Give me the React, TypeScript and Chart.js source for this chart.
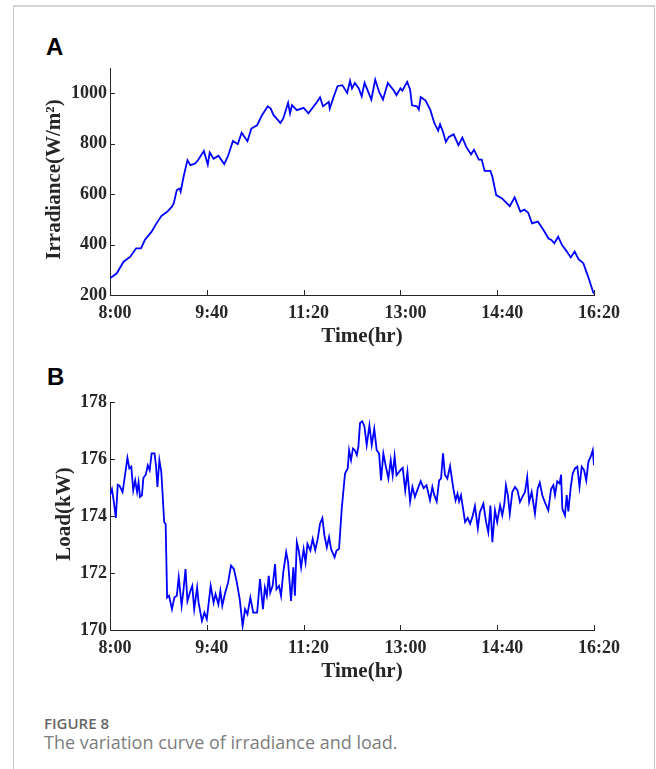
import React, { useEffect, useRef } from 'react';
import { Chart, registerables } from 'chart.js';

Chart.register(...registerables);

// ---------- data ----------
const timeTickValues = [0, 100, 200, 300, 400, 500];
const timeTickLabels = ['8:00', '9:40', '11:20', '13:00', '14:40', '16:20'];
const irradianceTicks = [200, 400, 600, 800, 1000];
const loadTicks = [170, 172, 174, 176, 178];

// minutes after 8:00
const irradianceMinutes = [
  0, 7, 14, 21, 27, 32, 36, 43, 48, 53, 59, 64, 66, 69, 72, 73, 76, 80, 83, 88,
  91, 97, 101, 103, 107, 112, 118, 122, 127, 132, 136, 142, 146, 152, 157, 163, 166, 169, 172, 176,
  179, 184, 186, 188, 193, 200, 205, 214, 217, 220, 226, 227, 231, 235, 240, 245, 248, 250, 253, 257,
  260, 263, 270, 274, 278, 282, 287, 293, 296, 300, 302, 307, 310, 312, 317, 319, 321, 326, 331, 335,
  339, 341, 344, 347, 350, 355, 360, 364, 368, 373, 376, 381, 384, 387, 393, 395, 399, 405, 413, 418,
  424, 428, 432, 436, 442, 448, 453, 456, 459, 463, 467, 472, 476, 480, 484, 489, 494, 499, 500,
];
const irradianceValues = [
  266, 286, 332, 352, 385, 385, 418, 451, 484, 513, 530, 550, 565, 616, 622, 610, 669, 735, 715, 721,
  735, 771, 717, 765, 740, 752, 719, 752, 811, 798, 843, 810, 860, 873, 913, 948, 939, 913, 900, 882,
  900, 962, 920, 953, 933, 942, 920, 966, 984, 948, 966, 939, 985, 1028, 1032, 1001, 1049, 1019, 1041, 1019,
  988, 1041, 975, 1054, 1005, 975, 1041, 1012, 992, 1019, 1010, 1045, 1015, 952, 948, 935, 985, 971, 933, 882,
  852, 877, 847, 807, 827, 837, 794, 824, 787, 758, 776, 737, 737, 692, 692, 669, 596, 583, 552, 587,
  530, 539, 526, 484, 491, 457, 424, 418, 405, 431, 398, 372, 349, 372, 342, 326, 272, 213, 205,
];

const loadMinutes = [
  0, 2, 4, 6, 8, 10, 13, 15, 18, 20, 22, 24, 26, 28, 29.5, 31, 33, 34.5, 37, 39,
  41, 43, 46, 47.5, 49, 51, 53, 56, 57.5, 59, 61, 64, 66.5, 69, 71, 74, 76, 78, 80, 83,
  85, 87, 90, 91.5, 95, 97.5, 100, 104, 107, 109, 112, 114, 116, 119, 122, 125, 128, 131, 134, 137,
  139.5, 142, 145, 148, 152, 155, 158, 160, 162, 164, 165.5, 168, 170.5, 172, 174.6, 176.7, 179, 182, 184, 187,
  189.4, 191, 193, 195, 197.4, 200, 202, 204, 207, 209.4, 212, 214.6, 217, 219.4, 221.5, 224, 226.3, 228.4, 232, 234,
  236.6, 239.4, 242.8, 245.6, 247, 249, 251, 253, 255, 256.6, 258.3, 260.7, 262.8, 265.2, 268, 270.4, 273, 275.5, 278, 280,
  282.4, 285, 287.6, 290, 292, 294, 296, 300, 302.4, 305, 307.3, 310, 312.4, 315, 318, 321, 324, 327, 330.6, 333,
  335, 337.5, 340, 342, 344, 346, 348.5, 351.3, 354.7, 357, 359, 360.6, 362.6, 365, 366.8, 369.5, 372, 374.3, 377, 380,
  382, 385.7, 388.4, 390.8, 393, 395, 397.7, 400, 403, 405.3, 407.4, 409, 411, 413, 415.6, 418.4, 421, 423.5, 426, 428.7,
  431, 433, 435.6, 439, 441.8, 444, 446.6, 449.4, 452.8, 455.6, 458, 459.7, 462, 464.5, 466, 467.3, 470, 471.8, 473.5, 476,
  478, 480.4, 482.8, 485, 487.3, 489.7, 492, 494.2, 496.6, 498.7, 500,
];
const loadValues = [
  174.73, 174.94, 174.49, 173.93, 175.1, 175.06, 174.84, 175.31, 176.04, 175.67, 175.73, 174.9, 175.25, 174.84, 175.19, 174.67, 174.73, 175.34, 175.45, 175.78,
  175.61, 176.2, 176.2, 175.78, 175.02, 175.96, 175.55, 173.78, 173.72, 171.14, 171.2, 170.73, 171.14, 171.2, 171.85, 170.85, 171.43, 172.14, 171.02, 171.37,
  171.55, 170.73, 171.49, 170.96, 170.32, 170.61, 170.38, 171.55, 170.96, 171.26, 170.9, 171.37, 170.85, 171.31, 171.67, 172.26, 172.14, 171.67, 171.08, 170.14,
  170.73, 170.55, 171.14, 170.61, 170.61, 171.79, 170.73, 171.49, 171.2, 171.9, 171.31, 171.55, 172.31, 171.43, 171.55, 171.2, 172.02, 172.73, 172.37, 171.02,
  172.2, 171.2, 173.08, 172.79, 172.2, 172.84, 172.37, 173.02, 172.79, 173.2, 172.8, 173.2, 173.73, 173.93, 173.32, 172.9, 173.26, 172.84, 172.55, 172.79,
  172.84, 174.26, 175.49, 175.67, 176.31, 175.96, 176.37, 176.31, 176.14, 176.43, 177.26, 177.32, 177.14, 176.49, 177.18, 176.49, 177.06, 176.31, 176.19, 175.25,
  176.19, 175.73, 175.31, 175.96, 175.43, 176.1, 175.43, 175.61, 175.69, 174.9, 175.55, 174.51, 175.02, 174.67, 174.96, 175.22, 174.98, 175.08, 174.55, 175.02,
  174.73, 174.51, 175.25, 175.31, 176.2, 175.45, 175.31, 175.75, 174.96, 174.55, 174.78, 174.51, 174.73, 174.2, 173.79, 173.93, 173.73, 173.96, 174.35, 173.57,
  174.12, 174.43, 173.81, 173.43, 174.37, 173.08, 174.2, 173.79, 174.37, 174.02, 174.43, 175.08, 174.73, 174.08, 174.84, 175.02, 174.9, 174.49, 174.67, 174.84,
  175.37, 174.49, 174.84, 174.08, 174.96, 175.17, 174.73, 174.47, 174.2, 174.94, 175.08, 174.73, 175.22, 175.14, 175.45, 174.25, 174.02, 174.73, 174.16, 175.02,
  175.49, 175.67, 175.73, 175.02, 175.73, 175.61, 175.25, 175.9, 176.08, 176.31, 175.78,
];

// ---------- style ----------
const SERIF = '"Liberation Serif", "Times New Roman", serif';
const AXIS_COLOR = '#262626';
const TEXT_COLOR = '#262626';
const LINE_COLOR = '#0000ff';

const axisDecor = {
  id: 'axisDecor',
  afterDraw(chart: any, _args: any, opts: any) {
    const { ctx, chartArea, scales } = chart;
    const x = scales.x;
    const y = scales.y;
    ctx.save();
    ctx.strokeStyle = AXIS_COLOR;
    ctx.lineWidth = 1;
    ctx.beginPath();
    x.ticks.forEach((t: any) => {
      const px = Math.round(x.getPixelForValue(t.value)) + 0.5;
      ctx.moveTo(px, chartArea.bottom);
      ctx.lineTo(px, chartArea.bottom - 5);
    });
    y.ticks.forEach((t: any) => {
      const py = Math.round(y.getPixelForValue(t.value)) + 0.5;
      ctx.moveTo(chartArea.left, py);
      ctx.lineTo(chartArea.left + 5, py);
    });
    ctx.stroke();

    ctx.fillStyle = TEXT_COLOR;
    ctx.font = `bold 21px ${SERIF}`;
    ctx.textAlign = 'center';
    ctx.textBaseline = 'middle';
    ctx.fillText(opts.xTitle, (chartArea.left + chartArea.right) / 2 + opts.xShift, opts.xTitleY);
    ctx.translate(opts.yTitleX, (chartArea.top + chartArea.bottom) / 2 + opts.yShift);
    ctx.rotate(-Math.PI / 2);
    ctx.fillText(opts.yTitle, 0, 0);
    ctx.restore();
  },
};

function makeConfig(
  xs: number[],
  ys: number[],
  yMin: number,
  yMax: number,
  yTicks: number[],
  yTitle: string,
  yTitleX: number,
  padTop: number
): any {
  const tickFont = { family: SERIF, size: 18, weight: 'bold' as const };
  return {
    type: 'line',
    data: {
      datasets: [
        {
          data: xs.map((m, i) => ({ x: m, y: ys[i] })),
          borderColor: LINE_COLOR,
          borderWidth: 1.8,
          pointRadius: 0,
          fill: false,
          tension: 0,
        },
      ],
    },
    options: {
      responsive: false,
      animation: false,
      devicePixelRatio: 1,
      layout: { padding: { top: padTop, right: 46, left: 0, bottom: 0 } },
      plugins: {
        legend: { display: false },
        tooltip: { enabled: false },
        axisDecor: {
          xTitle: 'Time(hr)',
          xShift: 10,
          xTitleY: 286.5,
          yTitle,
          yTitleX,
          yShift: -2,
        },
      },
      scales: {
        x: {
          type: 'linear',
          min: 0,
          max: 500,
          afterBuildTicks: (s: any) => {
            s.ticks = timeTickValues.map((v) => ({ value: v }));
          },
          afterFit: (s: any) => {
            s.height = 60;
          },
          ticks: {
            callback: (_v: any, i: number) => timeTickLabels[i],
            font: tickFont,
            color: TEXT_COLOR,
            padding: 8,
            labelOffset: 5,
            maxRotation: 0,
            autoSkip: false,
          },
          grid: { display: false, drawTicks: false },
          border: { display: true, color: AXIS_COLOR, width: 1 },
        },
        y: {
          type: 'linear',
          min: yMin,
          max: yMax,
          afterBuildTicks: (s: any) => {
            s.ticks = yTicks.map((v) => ({ value: v }));
          },
          afterFit: (s: any) => {
            s.width = 90;
          },
          ticks: {
            callback: (v: any) => String(v),
            font: tickFont,
            color: TEXT_COLOR,
            padding: 3,
            autoSkip: false,
          },
          grid: { display: false, drawTicks: false },
          border: { display: true, color: AXIS_COLOR, width: 1 },
        },
      },
    },
    plugins: [axisDecor],
  };
}

export default function App() {
  const refA = useRef<HTMLCanvasElement>(null);
  const refB = useRef<HTMLCanvasElement>(null);

  useEffect(() => {
    const a = new Chart(
      refA.current as HTMLCanvasElement,
      makeConfig(irradianceMinutes, irradianceValues, 200, 1100, irradianceTicks, 'Irradiance(W/m²)', 35, 18)
    );
    const b = new Chart(
      refB.current as HTMLCanvasElement,
      makeConfig(loadMinutes, loadValues, 170, 178, loadTicks, 'Load(kW)', 45, 17)
    );
    return () => {
      a.destroy();
      b.destroy();
    };
  }, []);

  const letter: React.CSSProperties = {
    position: 'absolute',
    fontFamily: '"Liberation Sans", Arial, sans-serif',
    fontWeight: 'bold',
    fontSize: 24,
    lineHeight: '24px',
    color: '#000',
  };

  return (
    <div
      style={{
        position: 'absolute',
        left: 0,
        top: 0,
        width: 656,
        height: 769,
        overflow: 'hidden',
        background: '#fff',
      }}
    >
      <div
        style={{
          position: 'absolute',
          left: 13,
          top: 5,
          width: 640,
          height: 800,
          borderLeft: '1px solid #c8c8c8',
          borderRight: '1px solid #c8c8c8',
          borderTop: '2px solid #d4d4d4',
        }}
      />
      <div style={{ ...letter, left: 46, top: 35 }}>A</div>
      <div style={{ ...letter, left: 47, top: 365 }}>B</div>
      <canvas
        ref={refA}
        width={620}
        height={305}
        style={{ position: 'absolute', left: 20, top: 50, width: 620, height: 305, display: 'block' }}
      />
      <canvas
        ref={refB}
        width={620}
        height={305}
        style={{ position: 'absolute', left: 20, top: 385, width: 620, height: 305, display: 'block' }}
      />
      <div
        style={{
          position: 'absolute',
          left: 44,
          top: 716,
          fontFamily: '"Open Sans", sans-serif',
          fontWeight: 600,
          fontSize: 15,
          lineHeight: '15px',
          color: '#666',
          whiteSpace: 'nowrap',
        }}
      >
        FIGURE 8
      </div>
      <div
        style={{
          position: 'absolute',
          left: 44,
          top: 733,
          fontFamily: '"Open Sans", sans-serif',
          fontWeight: 400,
          fontSize: 18,
          lineHeight: '18px',
          color: '#7d7d7d',
          whiteSpace: 'nowrap',
        }}
      >
        The variation curve of irradiance and load.
      </div>
    </div>
  );
}
